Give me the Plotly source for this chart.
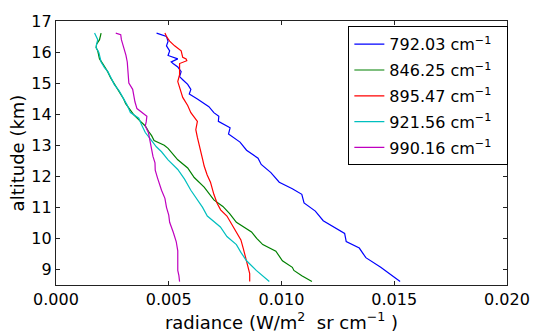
import plotly.graph_objects as go

# ---- data ----
labels = ["792.03", "846.25", "895.47", "921.56", "990.16"]
colors = ["#0000ff", "#008000", "#ff0000", "#00bfbf", "#bf00bf"]

alt_792 = [16.61, 16.5, 16.35, 16.2, 16.04, 15.89, 15.78, 15.68, 15.63, 15.52, 15.37, 15.21, 15.11,
           14.96, 14.8, 14.65, 14.49, 14.34, 14.24, 14.05, 13.93, 13.77, 13.56, 13.36, 13.1, 12.84,
           12.58, 12.38, 12.12, 11.81, 11.6, 11.42, 11.14, 10.88, 10.57, 10.16, 9.9, 9.69, 9.38, 9.07, 8.61]
rad_792 = [0.00446, 0.0049, 0.00497, 0.0049, 0.00504, 0.00497, 0.0054, 0.00511, 0.00519, 0.0054,
           0.00555, 0.00548, 0.00562, 0.00584, 0.00598, 0.00591, 0.00627, 0.00657, 0.00678, 0.0070,
           0.00722, 0.0072, 0.00772, 0.00765, 0.00816, 0.00845, 0.00896, 0.0091, 0.00953, 0.0099,
           0.01048, 0.0109, 0.0110, 0.0115, 0.01185, 0.0128, 0.01287, 0.01345, 0.01374, 0.0144, 0.01526]

alt_846 = [16.61, 16.5, 16.4, 16.25, 16.14, 16.04, 15.9, 15.78, 15.63, 15.5, 15.37, 15.16, 14.9, 14.65,
           14.49, 14.34, 14.15, 13.98, 13.8, 13.62, 13.45, 13.31, 13.15, 13.0, 12.9, 12.72, 12.53, 12.27,
           11.96, 11.65, 11.42, 11.24, 11.03, 10.8, 10.52, 10.3, 10.21, 10.0, 9.8, 9.59, 9.28, 9.07, 8.97,
           8.8, 8.61]
rad_846 = [0.0020, 0.00195, 0.00193, 0.0018, 0.00178, 0.00185, 0.0019, 0.00193, 0.00207, 0.0022,
           0.00229, 0.00243, 0.00265, 0.00287, 0.0030, 0.00309, 0.0033, 0.00345, 0.0037, 0.00396,
           0.0041, 0.00424, 0.00435, 0.0048, 0.00497, 0.0052, 0.0054, 0.00584, 0.00613, 0.00657,
           0.0068, 0.0070, 0.0074, 0.0077, 0.0080, 0.0085, 0.00867, 0.0089, 0.00917, 0.00975, 0.01004,
           0.01048, 0.01055, 0.0109, 0.01135]

alt_895 = [16.61, 16.5, 16.35, 16.2, 16.04, 15.83, 15.78, 15.72, 15.63, 15.45, 15.27, 15.05, 14.85,
           14.54, 14.28, 14.05, 13.77, 13.5, 13.25, 12.84, 12.55, 12.33, 12.05, 11.81, 11.55, 11.42,
           11.14, 10.92, 10.72, 10.45, 10.21, 9.95, 9.69, 9.28, 8.87, 8.61]
rad_895 = [0.00483, 0.0049, 0.00504, 0.00526, 0.00555, 0.00562, 0.00577, 0.0058, 0.00548, 0.00548,
           0.00548, 0.0054, 0.00548, 0.00562, 0.00584, 0.00598, 0.00627, 0.0062, 0.00627, 0.00642,
           0.0065, 0.00657, 0.0067, 0.00685, 0.00693, 0.0070, 0.00714, 0.0073, 0.00758, 0.0078,
           0.0080, 0.0082, 0.0083, 0.00845, 0.00859, 0.00859]

alt_921 = [16.61, 16.5, 16.4, 16.25, 16.14, 15.99, 15.85, 15.68, 15.5, 15.37, 15.16, 14.96, 14.75,
           14.5, 14.3, 14.05, 13.87, 13.65, 13.41, 13.15, 12.95, 12.79, 12.53, 12.22, 11.91, 11.55,
           11.24, 11.0, 10.72, 10.37, 10.06, 9.8, 9.55, 9.28, 8.97, 8.61]
rad_921 = [0.00171, 0.0018, 0.00185, 0.0018, 0.00178, 0.0019, 0.00195, 0.0020, 0.00215, 0.0023,
           0.00245, 0.00258, 0.0028, 0.0030, 0.00315, 0.0033, 0.00367, 0.0038, 0.00396, 0.00424,
           0.00445, 0.00468, 0.00497, 0.0054, 0.0057, 0.00598, 0.00627, 0.0065, 0.00671, 0.00729,
           0.00758, 0.0080, 0.0082, 0.00845, 0.00888, 0.00946]

alt_990 = [16.61, 16.56, 16.4, 16.14, 15.9, 15.68, 15.3, 15.0, 14.8, 14.6, 14.4, 14.18, 14.05, 13.93,
           13.75, 13.62, 13.4, 13.15, 12.84, 12.64, 12.43, 12.2, 11.95, 11.7, 11.55, 11.29, 11.0, 10.75,
           10.52, 10.2, 9.9, 9.6, 9.49, 9.2, 8.97, 8.8, 8.61]
rad_990 = [0.00265, 0.00287, 0.0029, 0.00301, 0.0031, 0.00316, 0.0032, 0.00323, 0.0034, 0.00345,
           0.0035, 0.00359, 0.0038, 0.00403, 0.0040, 0.00396, 0.0041, 0.00417, 0.00424, 0.0043,
           0.00439, 0.0044, 0.0045, 0.0046, 0.00468, 0.00483, 0.0049, 0.0050, 0.00504, 0.0052,
           0.00533, 0.0054, 0.0054, 0.00538, 0.0054, 0.00545, 0.00548]

x_ticks = [0.0, 0.005, 0.010, 0.015, 0.020]
y_ticks = [9, 10, 11, 12, 13, 14, 15, 16, 17]

series_x = [rad_792, rad_846, rad_895, rad_921, rad_990]
series_y = [alt_792, alt_846, alt_895, alt_921, alt_990]

FONT = "DejaVu Sans"

fig = go.Figure()
for lab, col, xs, ys in zip(labels, colors, series_x, series_y):
    fig.add_trace(go.Scatter(
        x=xs, y=ys, mode="lines",
        name=f"{lab} cm<sup>\u22121</sup>  ",
        legendgroup=lab,
        line=dict(color=col, width=1.2),
    ))

axis_common = dict(
    showline=True, linecolor="#222222", linewidth=1.2, mirror="ticks",
    ticks="inside", ticklen=4, tickcolor="#222222", tickwidth=1,
    showgrid=False, zeroline=False,
    tickfont=dict(family=FONT, size=16, color="black"),
)

fig.update_layout(
    width=542, height=336,
    margin=dict(l=56, r=27, t=19, b=43),
    paper_bgcolor="white", plot_bgcolor="white",
    font=dict(family=FONT, size=16, color="black"),
    xaxis=dict(range=[0, 0.02], tickvals=x_ticks,
               ticktext=[f"{v:.3f}" for v in x_ticks],
               title=dict(text="radiance (W/m<sup>2</sup>  sr cm<sup>\u22121</sup> )",
                          font=dict(family=FONT, size=18), standoff=2),
               **axis_common),
    yaxis=dict(range=[8.5, 17], tickvals=y_ticks,
               ticktext=[str(v) for v in y_ticks],
               title=dict(text="altitude (km)", font=dict(family=FONT, size=18), standoff=2),
               **axis_common),
    legend=dict(x=1.003, y=0.98, xanchor="right", yanchor="top",
                bordercolor="black", borderwidth=1, bgcolor="white",
                font=dict(family=FONT, size=16), tracegroupgap=2,
                itemwidth=30),
    showlegend=True,
)

fig.write_html("out.html")
